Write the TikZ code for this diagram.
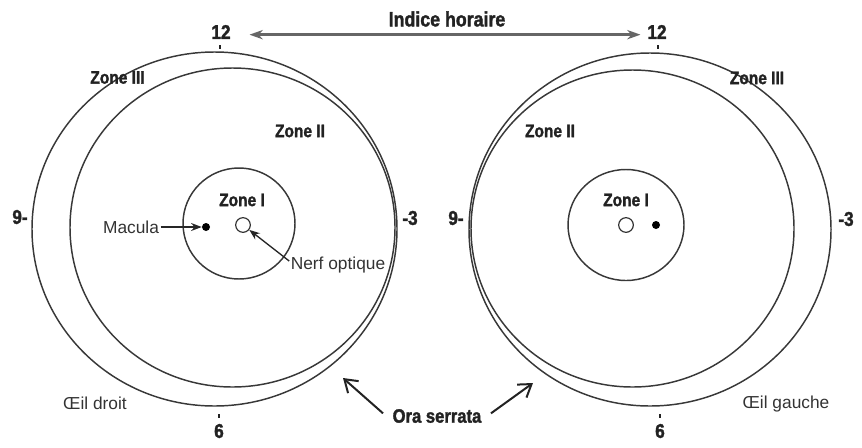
\documentclass[tikz,border=0pt]{standalone}
\usepackage{fontspec}
\setmainfont{Liberation Sans}
\newfontfamily\condfont[FakeStretch=0.86,FakeBold=1.6]{Liberation Sans}
\usepackage{tikz}
\usetikzlibrary{positioning,arrows.meta}
\definecolor{ink}{HTML}{222222}
\tikzset{
  zone/.style={draw=black!78, line width=1.1pt},
  zlbl/.style={font=\condfont\bfseries\fontsize{13.5}{14}\selectfont, text=ink, inner sep=1pt},
  num/.style={font=\condfont\bfseries\fontsize{15}{16}\selectfont, text=ink, inner sep=1pt},
  txt/.style={font=\fontsize{13}{14}\selectfont, text=black!80, inner sep=1pt},
  tick/.style={draw=ink, line width=0.9pt},
  mac/.style={circle, fill=black, inner sep=0pt, minimum size=6pt},
  nerve/.style={circle, draw=black!80, fill=white, line width=0.9pt, inner sep=0pt, minimum size=11pt},
  ptr/.style={draw=black!85, line width=1pt, -{Stealth[length=8pt,width=6pt]}},
  ora/.style={draw=ink, line width=1.5pt, -{Straight Barb[length=9pt,width=12pt]}},
  ind/.style={draw=black!60, line width=2.2pt, {Stealth[length=10pt,width=7pt]}-{Stealth[length=10pt,width=7pt]}}
}

\begin{document}
\begin{tikzpicture}[x=0.75pt, y=-0.75pt]
  \useasboundingbox (0,0) rectangle (862,447);
  % left eye (oeil droit)
  \draw[zone] (214.5,229) ellipse [x radius=182.5, y radius=177];
  \draw[zone] (232.5,227.5) ellipse [x radius=162.5, y radius=159.5];
  \draw[zone] (239,223.5) ellipse [x radius=56, y radius=55.5];
  \node[mac] (mdotL) at (206,227) {};
  \node[nerve] (nervL) at (243,225) {};
  % right eye (oeil gauche)
  \draw[zone] (650,229.5) ellipse [x radius=181, y radius=176.5];
  \draw[zone] (632.5,228.5) ellipse [x radius=161.5, y radius=158.5];
  \draw[zone] (626,225) ellipse [x radius=58, y radius=55.5];
  \node[mac] (mdotR) at (656,225) {};
  \node[nerve] (nervR) at (626,225) {};
  % zone labels
  \node[zlbl] (z3L) at (117.5,77.5) {Zone III};
  \node[zlbl] (z2L) at (300,131) {Zone II};
  \node[zlbl] (z1L) at (242,200) {Zone I};
  \node[zlbl] (z3R) at (757,78) {Zone III};
  \node[zlbl] (z2R) at (550,131) {Zone II};
  \node[zlbl] (z1R) at (626,200) {Zone I};
  % clock hours
  \node[num] (t12L) at (221,32) {12};
  \node[num] (t12R) at (657,32) {12};
  \node[num] (t9L) at (20,217) {9-};
  \node[num] (t3L) at (410,218) {-3};
  \node[num] (t9R) at (456,218) {9-};
  \node[num] (t3R) at (846,219) {-3};
  \node[num] (t6L) at (219,431) {6};
  \node[num] (t6R) at (660,431) {6};
  \draw[tick] (220,45) -- (220,49);
  \draw[tick] (658,45) -- (658,49);
  \draw[tick] (219,414) -- (219,418);
  \draw[tick] (660,414) -- (660,418);
  % indice horaire
  \node[num, font=\condfont\bfseries\fontsize{15.5}{16}\selectfont] (ih) at (447,19) {Indice horaire};
  \draw[ind, shorten <=13pt, shorten >=4pt] ([yshift=-2pt]t12L.east) -- ([yshift=-2pt]t12R.west);
  % macula, nerf optique
  \node[txt] (macL) at (131,227) {Macula};
  \draw[ptr] (macL) -- (mdotL);
  \node[txt] (nerf) at (338,265) {Nerf optique};
  \draw[ptr] ([yshift=3pt]nerf.west) -- (nervL);
  % ora serrata
  \node[num, font=\condfont\bfseries\fontsize{14.5}{15}\selectfont] (ora) at (437,416) {Ora serrata};
  \coordinate (oraL) at (343,378);
  \coordinate (oraR) at (533,383);
  \draw[ora] ([xshift=-6pt,yshift=2pt]ora.west) -- (oraL);
  \draw[ora] ([xshift=6pt,yshift=2pt]ora.east) -- (oraR);
  % eyes
  \node[txt] (odr) at (95,403) {Œil droit};
  \node[txt] (oga) at (786,404) {Œil gauche};
\end{tikzpicture}
\end{document}
